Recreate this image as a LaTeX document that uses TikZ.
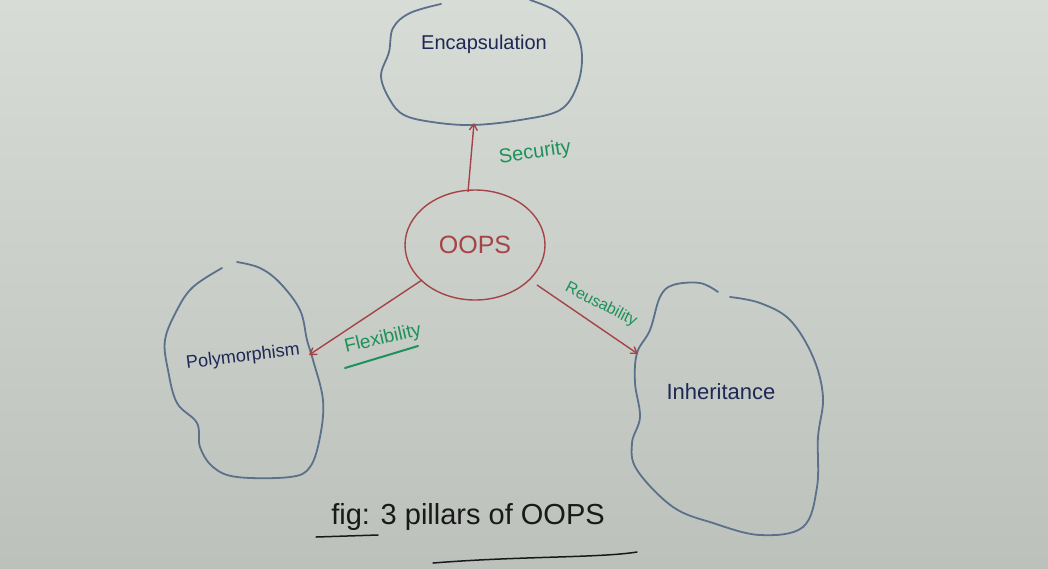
\documentclass[tikz,border=0pt]{standalone}
\usepackage{fontspec}
\setmainfont{Liberation Sans}
\usetikzlibrary{arrows.meta,shapes.geometric}
\definecolor{boardtop}{RGB}{216,220,215}
\definecolor{boardbot}{RGB}{188,193,188}
\definecolor{cloudblue}{RGB}{92,112,140}
\definecolor{inkblue}{RGB}{30,40,85}
\definecolor{inkred}{RGB}{165,68,70}
\definecolor{inkgreen}{RGB}{30,145,88}
\definecolor{inkblack}{RGB}{25,25,25}
\tikzset{
  cloud/.style={draw=cloudblue, line width=1.8pt, line cap=round},
  conn/.style={draw=inkred, line width=1.4pt, -{Straight Barb[length=6pt,width=8pt]}},
  pillar/.style={text=inkblue, font=\fontsize{20}{24}\selectfont},
  reason/.style={text=inkgreen, font=\fontsize{20}{24}\selectfont},
}
\begin{document}
\begin{tikzpicture}[x=1pt,y=-1pt]
\useasboundingbox (0,0) rectangle (1048,568);
\shade[top color=boardtop, bottom color=boardbot] (0,0) rectangle (1048,568);

% Encapsulation cloud
\draw[cloud] plot[smooth, tension=0.6] coordinates {(441,4) (410,13) (393,28) (389,52) (381,76) (390,100) (404,115) (432,122) (472,125) (520,120) (560,110) (577,86) (582,56) (575,30) (556,11) (530,0)};
\node[pillar] (enc) at (484,44) {Encapsulation};
\coordinate (encb) at (474,123);

% Polymorphism cloud
\draw[cloud] plot[smooth, tension=0.6] coordinates {(222,268) (193,287) (177,310) (165,340) (168,370) (177,403) (197,423) (200,447) (213,467) (237,477) (290,477) (310,467) (320,437) (323,400) (313,360) (307,340) (300,310) (280,283) (260,268) (237,262)};
\node[pillar, rotate=7, font=\fontsize{18}{22}\selectfont] (poly) at (243,357) {Polymorphism};
\coordinate (polyr) at (309,355);

% Inheritance cloud
\draw[cloud] plot[smooth, tension=0.6] coordinates {(718,292) (700,283) (673,285) (660,297) (650,330) (637,353) (635,383) (640,417) (632,443) (637,470) (673,507) (713,523) (760,535) (803,527) (817,487) (818,437) (823,397) (813,357) (790,320) (760,303) (730,297)};
\node[pillar, font=\fontsize{22}{26}\selectfont] (inh) at (721,392) {Inheritance};
\coordinate (inhl) at (638,354);

% OOPS
\node[ellipse, draw=inkred, line width=1.4pt, minimum width=140pt, minimum height=110pt, text=inkred, font=\fontsize{25}{30}\selectfont] (oops) at (475,245) {OOPS};
\coordinate (oopsT) at (468,192);
\coordinate (oopsL) at (422,280);
\coordinate (oopsR) at (537,285);

% connectors
\draw[conn] (oopsT) -- (encb);
\draw[conn] (oopsL) -- (polyr);
\draw[conn] (oopsR) -- (inhl);

% labels
\node[reason, rotate=8] (sec) at (535,153) {Security};
\node[reason, rotate=13, font=\fontsize{19}{22}\selectfont] (flex) at (383,339) {Flexibility};
\draw[inkgreen, line width=2pt, line cap=round] (345,368) -- (418,346);
\node[reason, rotate=-27, font=\fontsize{16}{20}\selectfont] (reu) at (601,305) {Reusability};

% caption
\node[text=inkblack, font=\fontsize{29}{34}\selectfont] (cap) at (468,517) {fig: 3 pillars of OOPS};
\draw[inkblack, line width=1.5pt, line cap=round] (316,537) -- (378,535);
\draw[inkblack, line width=1.5pt, line cap=round] (433,563) .. controls (520,556) and (600,558) .. (637,552);
\end{tikzpicture}
\end{document}
